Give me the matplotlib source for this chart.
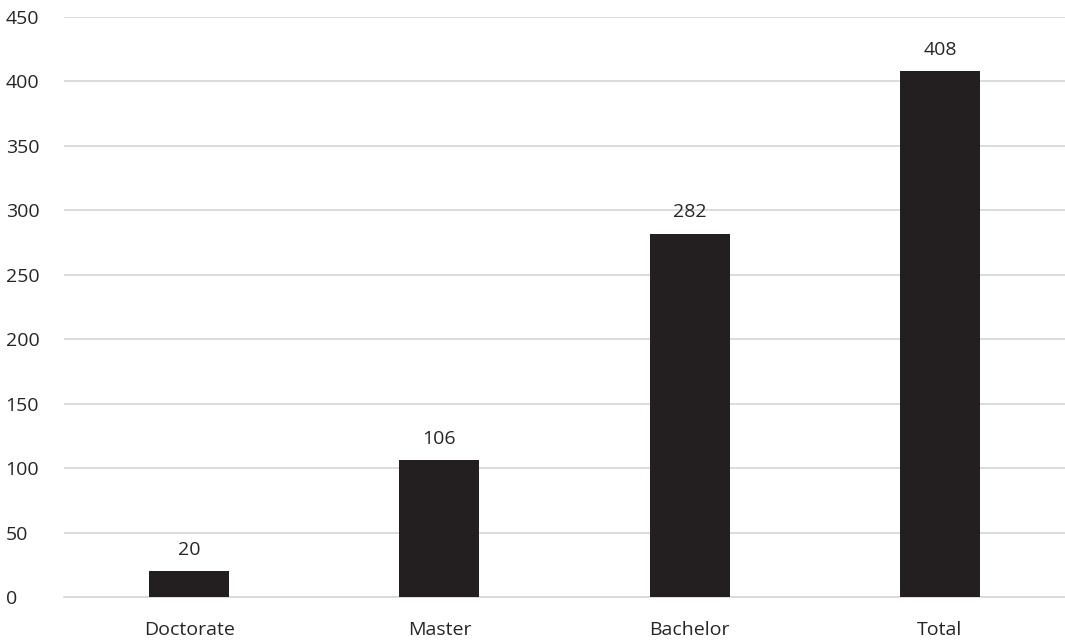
import matplotlib
matplotlib.use("Agg")
import matplotlib.pyplot as plt

categories = ["Doctorate", "Master", "Bachelor", "Total"]
values = [20, 106, 282, 408]
y_ticks = [0, 50, 100, 150, 200, 250, 300, 350, 400, 450]

plt.rcParams['font.family'] = ['Open Sans', 'DejaVu Sans']

fig = plt.figure(figsize=(10.65, 6.4), dpi=100)
ax = fig.add_axes([64 / 1065, 1 - 597 / 640, 1 - 64 / 1065, (597 - 17) / 640])

bar_color = "#231f20"
grid_color = "#d9d9d9"
text_color = "#262626"
fs = 14

x = list(range(len(categories)))
ax.bar(x, values, width=0.32, color=bar_color, zorder=3)

for xi, v in zip(x, values):
    ax.annotate(str(v), (xi, v), xytext=(0, 9), textcoords="offset points",
                ha="center", va="bottom", fontsize=fs, color=text_color)

ax.set_xlim(-0.5, len(categories) - 0.5)
ax.set_ylim(0, 450)
ax.set_yticks(y_ticks)
ax.set_xticks(x)
ax.set_xticklabels(categories)
ax.tick_params(axis="both", length=0, labelsize=fs, labelcolor=text_color)
ax.tick_params(axis="x", pad=17)
ax.tick_params(axis="y", pad=42)
for lab in ax.get_yticklabels():
    lab.set_horizontalalignment("left")

ax.yaxis.grid(True, color=grid_color, linewidth=1.3, zorder=0)
for s in ["top", "right", "left"]:
    ax.spines[s].set_visible(False)
ax.spines["bottom"].set_color(grid_color)
ax.spines["bottom"].set_linewidth(1.3)
ax.set_facecolor("white")

fig.savefig("out.png", dpi=100, facecolor="white")
